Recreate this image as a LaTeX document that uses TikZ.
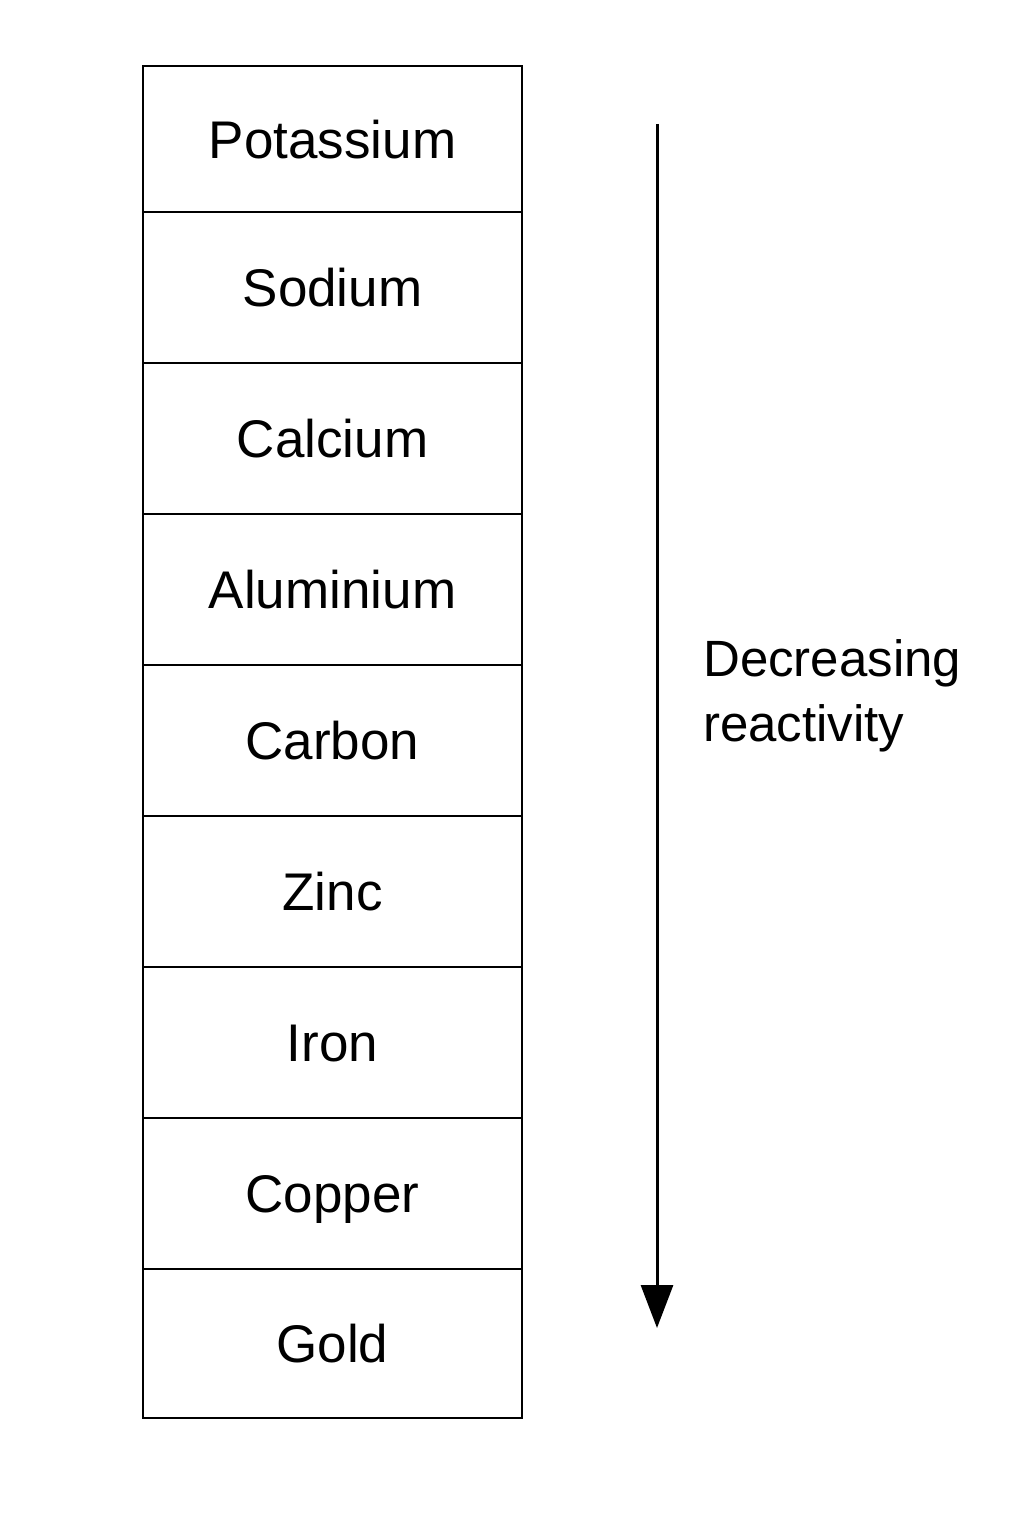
\documentclass[tikz,border=0pt]{standalone}
\usepackage{fontspec}
\setmainfont{Liberation Sans}
\usetikzlibrary{arrows.meta}
\begin{document}
\begin{tikzpicture}[x=1pt,y=-1pt,
  cell/.style={draw=black,line width=2.5pt,minimum width=379pt,inner sep=0pt,
    font=\fontsize{53}{64}\selectfont,text height=38pt,text depth=0pt,anchor=center},
  lbl/.style={font=\fontsize{51}{65}\selectfont,align=left,anchor=north west,inner sep=0pt}]
\useasboundingbox[fill=white] (0,0) rectangle (1024,1536);
\foreach \t/\a/\b [count=\i from 0] in {Potassium/66/212,Sodium/212/363,Calcium/363/514,Aluminium/514/665,Carbon/665/816,Zinc/816/967,Iron/967/1118,Copper/1118/1269,Gold/1269/1418}{
  \node[cell,minimum height={\b-\a}] (c\i) at (332.5,{(\a+\b)/2}) {\t};
}
\coordinate (as) at (657,124);
\coordinate (ae) at (657,1328);
\draw[line width=3pt,-{Triangle[width=32pt,length=43pt]}] (as) -- (ae);
\node[lbl] (txt) at (703,639) {Decreasing\\reactivity};
\end{tikzpicture}
\end{document}
